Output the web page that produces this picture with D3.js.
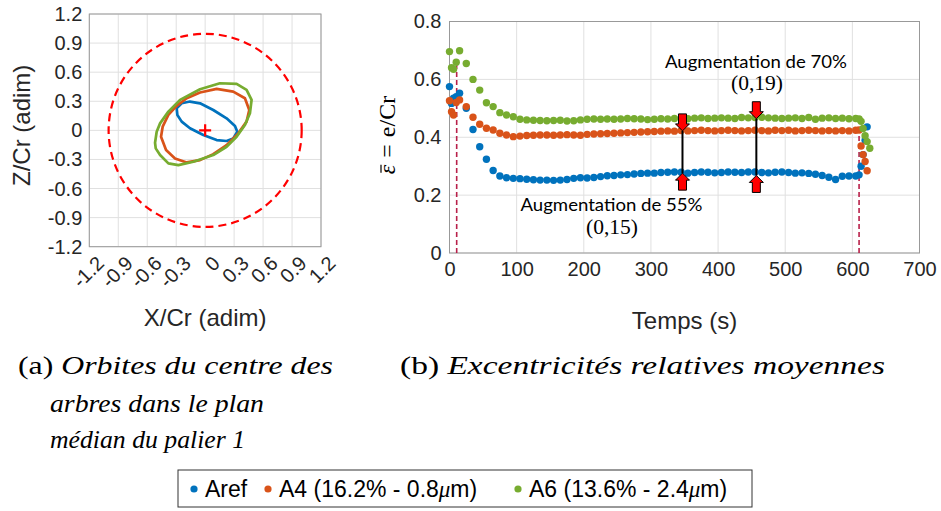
<!DOCTYPE html>
<html><head><meta charset="utf-8">
<script src="https://cdn.jsdelivr.net/npm/d3@7"></script>
<style>body{margin:0;background:#fff;} svg{display:block;}</style>
</head><body>
<svg id="c" width="941" height="511"></svg>
<script>
// ---------- DATA ----------
// Left panel: orbits (X/Cr, Z/Cr)
const orbitTicks = [-1.2,-0.9,-0.6,-0.3,0,0.3,0.6,0.9,1.2];
const orbitTickLabels = ["-1.2","-0.9","-0.6","-0.3","0","0.3","0.6","0.9","1.2"];
const orbitAref = [[-0.295,0.228],[-0.243,0.279],[-0.157,0.297],[-0.053,0.279],[0.084,0.210],[0.222,0.124],[0.309,0.045],[0.333,-0.014],[0.291,-0.083],[0.222,-0.110],[0.119,-0.100],[-0.019,-0.048],[-0.157,0.021],[-0.243,0.090],[-0.288,0.159]];
const orbitA4 = [[-0.457,-0.066],[-0.440,0.038],[-0.381,0.159],[-0.295,0.252],[-0.191,0.331],[-0.053,0.390],[0.119,0.428],[0.291,0.400],[0.412,0.331],[0.457,0.210],[0.429,0.090],[0.343,-0.031],[0.222,-0.152],[0.084,-0.245],[-0.053,-0.307],[-0.191,-0.331],[-0.312,-0.290],[-0.405,-0.203]];
const orbitA6 = [[-0.519,-0.128],[-0.502,-0.014],[-0.467,0.072],[-0.381,0.193],[-0.260,0.314],[-0.053,0.424],[0.153,0.486],[0.326,0.479],[0.429,0.417],[0.481,0.314],[0.464,0.176],[0.412,0.055],[0.326,-0.066],[0.222,-0.169],[0.084,-0.255],[-0.122,-0.324],[-0.278,-0.359],[-0.381,-0.341],[-0.467,-0.255],[-0.512,-0.186]];
const clearanceRadius = 1;

// Right panel: mean relative eccentricity vs time
const timeTicks = [0,100,200,300,400,500,600,700];
const eccTicks = [0,0.2,0.4,0.6,0.8];
const eccTickLabels = ["0","0.2","0.4","0.6","0.8"];
const times = [0,3,6,10,15,25,35,45,55,65,75,85,95,
 105,115,125,135,145,155,165,175,185,195,
 205,215,225,235,245,255,265,275,285,295,
 305,315,325,335,345,355,365,375,385,395,
 405,415,425,435,445,455,465,475,485,495,
 505,515,525,535,545,555,565,575,585,595,
 605,610,613,616,619,622,626];
const eccAref = [0.575,0.517,0.535,0.54,0.552,0.50,0.427,0.367,0.324,0.285,0.266,0.26,0.258,
 0.257,0.255,0.253,0.252,0.252,0.251,0.252,0.254,0.258,0.26,
 0.259,0.261,0.264,0.267,0.268,0.27,0.271,0.273,0.275,0.276,
 0.276,0.278,0.279,0.28,0.279,0.276,0.278,0.28,0.279,0.277,
 0.278,0.28,0.279,0.278,0.28,0.28,0.278,0.277,0.279,0.28,
 0.278,0.276,0.277,0.275,0.272,0.268,0.262,0.254,0.265,0.266,
 0.266,0.27,0.30,0.34,0.39,0.436,null];
const eccA4 = [0.526,0.488,0.477,0.52,0.529,0.506,0.469,0.445,0.431,0.425,0.414,0.408,0.402,
 0.404,0.406,0.407,0.408,0.408,0.407,0.408,0.409,0.408,0.407,
 0.41,0.411,0.412,0.413,0.414,0.415,0.416,0.417,0.418,0.419,
 0.42,0.421,0.422,0.421,0.423,0.422,0.423,0.424,0.423,0.422,
 0.423,0.424,0.423,0.422,0.423,0.424,0.423,0.422,0.424,0.423,
 0.424,0.422,0.423,0.424,0.423,0.422,0.423,0.422,0.423,0.422,
 0.424,0.425,0.37,0.34,0.316,0.284,null];
const eccA6 = [0.696,0.64,0.635,0.659,0.699,0.655,0.60,0.563,0.519,0.506,0.485,0.477,0.471,
 0.462,0.46,0.459,0.458,0.457,0.458,0.459,0.456,0.457,0.46,
 0.462,0.463,0.462,0.463,0.462,0.463,0.465,0.464,0.463,0.461,
 0.462,0.464,0.463,0.465,0.466,0.464,0.466,0.467,0.465,0.466,
 0.467,0.466,0.465,0.468,0.467,0.468,0.469,0.467,0.466,0.465,
 0.466,0.467,0.465,0.468,0.462,0.466,0.467,0.465,0.466,0.464,
 0.465,0.463,0.455,0.43,0.405,0.385,0.362];
const markerTimes = [10.7, 610];
const markerTops = [0.655, 0.435];
const arrowTimes = [347, 457];
const arrowTops = [0.422, 0.464];
const arrowBottoms = [0.276, 0.268];
const annotTexts = [["Augmentation de 55%","(0,15)"],["Augmentation de 70%","(0,19)"]];
const seriesNames = ["Aref","A4 (16.2% - 0.8","A6 (13.6% - 2.4"];
const colors = ["#0072BD","#D95319","#77AC30"];

// ---------- DRAW ----------
const svg = d3.select("#c");
const txt = "#262626", gridC = "#e0e0e0", frameC = "#999";
const sans = "'Liberation Sans', Arial, sans-serif";
const serif = "'Liberation Serif', 'DejaVu Serif', serif";

// ---- Left panel ----
const L = {x0:89.3, x1:321, y0:14, y1:246.7};
const ox = d3.scaleLinear().domain([-1.2,1.2]).range([L.x0,L.x1]);
const oz = d3.scaleLinear().domain([-1.2,1.2]).range([L.y1,L.y0]);
const gl = svg.append("g");
gl.append("rect").attr("x",L.x0).attr("y",L.y0).attr("width",L.x1-L.x0).attr("height",L.y1-L.y0).attr("fill","#fff");
gl.selectAll(".gx").data(orbitTicks).join("line").attr("x1",d=>ox(d)).attr("x2",d=>ox(d)).attr("y1",L.y0).attr("y2",L.y1).attr("stroke",gridC);
gl.selectAll(".gy").data(orbitTicks).join("line").attr("y1",d=>oz(d)).attr("y2",d=>oz(d)).attr("x1",L.x0).attr("x2",L.x1).attr("stroke",gridC);
gl.append("rect").attr("x",L.x0).attr("y",L.y0).attr("width",L.x1-L.x0).attr("height",L.y1-L.y0).attr("fill","none").attr("stroke",frameC);
gl.selectAll(".ly").data(orbitTicks).join("text").attr("x",L.x0-7).attr("y",d=>oz(d)).attr("dy","0.35em")
  .attr("text-anchor","end").attr("font-family",sans).attr("font-size",20).attr("fill",txt).text((d,i)=>orbitTickLabels[i]);
gl.selectAll(".lx").data(orbitTicks).join("text")
  .attr("transform",d=>`translate(${ox(d)+11},${L.y1+13}) rotate(-45)`)
  .attr("text-anchor","end").attr("dy","0.35em").attr("font-family",sans).attr("font-size",20).attr("fill",txt).text((d,i)=>orbitTickLabels[i]);
gl.append("text").attr("x",(L.x0+L.x1)/2).attr("y",326).attr("text-anchor","middle").attr("font-family",sans).attr("font-size",24).attr("fill",txt).text("X/Cr (adim)");
gl.append("text").attr("transform",`translate(30,${(L.y0+L.y1)/2 - 5}) rotate(-90)`).attr("text-anchor","middle").attr("font-family",sans).attr("font-size",24).attr("fill",txt).text("Z/Cr (adim)");
gl.append("circle").attr("cx",ox(0)).attr("cy",oz(0)).attr("r",ox(clearanceRadius)-ox(0)).attr("fill","none").attr("stroke","#ff0000").attr("stroke-width",2.2).attr("stroke-dasharray","8,5");
const oline = d3.line().x(d=>ox(d[0])).y(d=>oz(d[1])).curve(d3.curveLinearClosed);
[orbitAref, orbitA4, orbitA6].forEach((o,i)=>{
  gl.append("path").attr("d",oline(o)).attr("fill","none").attr("stroke",colors[i]).attr("stroke-width",2.7).attr("stroke-linejoin","round");
});
gl.append("path").attr("d",`M${ox(0)-6},${oz(0)}H${ox(0)+6}M${ox(0)},${oz(0)-6}V${oz(0)+6}`).attr("stroke","#ff0000").attr("stroke-width",2.2);

// ---- Right panel ----
const R = {x0:449.5, x1:919.5, y0:21.5, y1:253};
const tx = d3.scaleLinear().domain([0,700]).range([R.x0,R.x1]);
const ey = d3.scaleLinear().domain([0,0.8]).range([R.y1,R.y0]);
const gr = svg.append("g");
gr.append("rect").attr("x",R.x0).attr("y",R.y0).attr("width",R.x1-R.x0).attr("height",R.y1-R.y0).attr("fill","#fff");
gr.selectAll(".gx").data(timeTicks).join("line").attr("x1",d=>tx(d)).attr("x2",d=>tx(d)).attr("y1",R.y0).attr("y2",R.y1).attr("stroke",gridC);
gr.selectAll(".gy").data(eccTicks).join("line").attr("y1",d=>ey(d)).attr("y2",d=>ey(d)).attr("x1",R.x0).attr("x2",R.x1).attr("stroke",gridC);
gr.append("rect").attr("x",R.x0).attr("y",R.y0).attr("width",R.x1-R.x0).attr("height",R.y1-R.y0).attr("fill","none").attr("stroke",frameC);
const ax = gr.append("g").attr("transform",`translate(0,${R.y1})`).call(d3.axisBottom(tx).tickValues(timeTicks).tickSize(0).tickPadding(9).tickFormat(d3.format("d")));
const ay = gr.append("g").attr("transform",`translate(${R.x0},0)`).call(d3.axisLeft(ey).tickValues(eccTicks).tickSize(0).tickPadding(8).tickFormat((d,i)=>eccTickLabels[i]));
[ax,ay].forEach(a=>{a.select(".domain").remove(); a.selectAll("text").attr("font-family",sans).attr("font-size",20).attr("fill",txt);});
gr.append("text").attr("x",(R.x0+R.x1)/2).attr("y",329).attr("text-anchor","middle").attr("font-family",sans).attr("font-size",24).attr("fill",txt).text("Temps (s)");
// y label: epsilon-bar = e/Cr
const ylg = gr.append("g").attr("transform",`translate(395,142) rotate(-90)`);
const yl = ylg.append("text").attr("font-family",serif).attr("font-size",24).attr("fill","#000");
const epsT = yl.append("tspan").attr("font-style","italic").text("ε");
yl.append("tspan").attr("dx",7).text("=");
yl.append("tspan").attr("dx",7).text("e/Cr");
const ylLen = yl.node().getComputedTextLength();
yl.attr("x",-ylLen/2);
const epsW = epsT.node().getComputedTextLength();
ylg.append("line").attr("x1",-ylLen/2+1.5).attr("x2",-ylLen/2+epsW).attr("y1",-14).attr("y2",-14).attr("stroke","#000").attr("stroke-width",1.2);

gr.selectAll(".mk").data(markerTimes).join("line").attr("x1",d=>tx(d)).attr("x2",d=>tx(d)).attr("y1",R.y1).attr("y2",(d,i)=>ey(markerTops[i]))
  .attr("stroke","#B8204A").attr("stroke-width",1.6).attr("stroke-dasharray","5,3");

[eccAref, eccA4, eccA6].forEach((s,i)=>{
  const pts = times.map((t,j)=>[t,s[j]]).filter(p=>p[1]!=null);
  gr.append("g").selectAll("circle").data(pts).join("circle").attr("cx",d=>tx(d[0])).attr("cy",d=>ey(d[1])).attr("r",3.7).attr("fill",colors[i]);
});

arrowTimes.forEach((t,i)=>{
  const x = tx(t), yt = ey(arrowTops[i]), yb = ey(arrowBottoms[i]);
  gr.append("line").attr("x1",x).attr("x2",x).attr("y1",yt).attr("y2",yb).attr("stroke","#000").attr("stroke-width",2);
  const down = `M${x-4},${yt-17}H${x+4}V${yt-7}H${x+7}L${x},${yt}L${x-7},${yt-7}H${x-4}Z`;
  const up = `M${x-4},${yb+17}H${x+4}V${yb+7}H${x+7}L${x},${yb}L${x-7},${yb+7}H${x-4}Z`;
  gr.append("path").attr("d",down).attr("fill","#ff0000").attr("stroke","#000").attr("stroke-width",1);
  gr.append("path").attr("d",up).attr("fill","#ff0000").attr("stroke","#000").attr("stroke-width",1);
});
const annFont = "Lato, 'Open Sans', sans-serif";
function annot(x,y,s,len,font,size){
  gr.append("text").attr("x",x).attr("y",y).attr("text-anchor","middle").attr("font-family",font).attr("font-size",size)
    .attr("textLength",len).attr("lengthAdjust","spacingAndGlyphs").attr("fill","#000").text(s);
}
annot(611.5,211,annotTexts[0][0],182,annFont,17);
annot(612,234,annotTexts[0][1],52,serif,20);
annot(756,68,annotTexts[1][0],182,annFont,17);
annot(757,90,annotTexts[1][1],52,serif,20);

// ---- Captions ----
function caption(x,y,up,it,len){
  const t = svg.append("text").attr("x",x).attr("y",y).attr("font-family",serif).attr("font-size",25).attr("fill","#000");
  if(len) t.attr("textLength",len).attr("lengthAdjust","spacingAndGlyphs");
  if(up) t.append("tspan").text(up);
  t.append("tspan").attr("font-style","italic").text(it);
}
caption(18,374,"(a) ","Orbites du centre des",315);
caption(50,412,null,"arbres dans le plan",214);
caption(50,448,null,"médian du palier 1",195);
caption(400,374,"(b) ","Excentricités relatives moyennes",485);

// ---- Legend ----
const lg = svg.append("g");
lg.append("rect").attr("x",178).attr("y",470).attr("width",574).attr("height",37).attr("fill","#fff").attr("stroke","#333").attr("stroke-width",1);
const legX = [194, 268, 518];
seriesNames.forEach((n,i)=>{
  lg.append("circle").attr("cx",legX[i]).attr("cy",489).attr("r",3.6).attr("fill",colors[i]);
  const t = lg.append("text").attr("x",legX[i]+11).attr("y",497).attr("font-family",sans).attr("font-size",23).attr("fill","#000").text(n);
  if(i>0){ t.append("tspan").attr("font-family",serif).attr("font-style","italic").text("μ"); t.append("tspan").text("m)"); }
});
</script>
</body></html>
